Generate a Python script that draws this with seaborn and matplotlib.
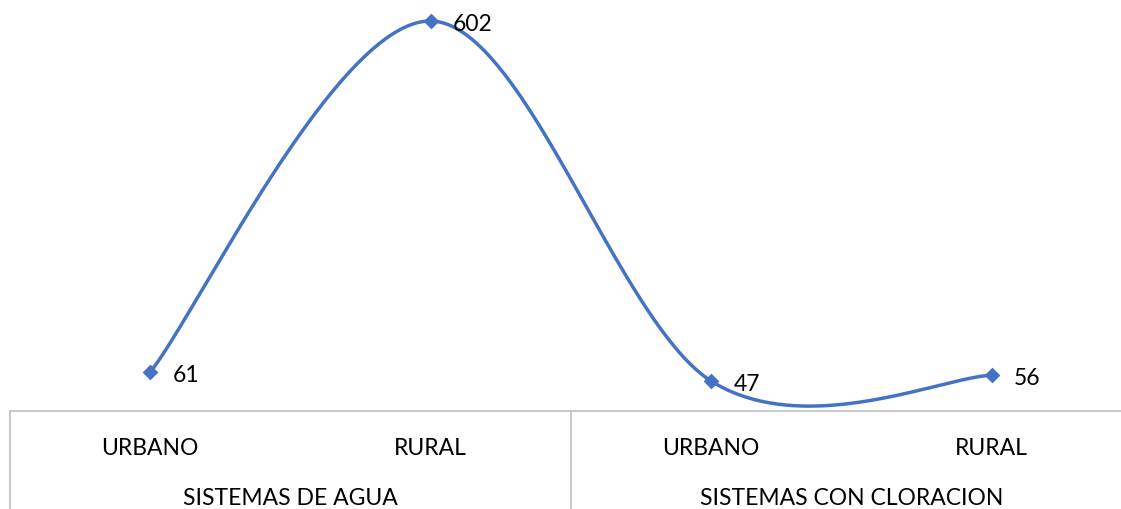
import numpy as np
import pandas as pd
import seaborn as sns
import matplotlib
matplotlib.use("Agg")
import matplotlib.pyplot as plt

# ---- data ----
groups = ["SISTEMAS DE AGUA", "SISTEMAS CON CLORACION"]
subcats = ["URBANO", "RURAL", "URBANO", "RURAL"]
values = [61, 602, 47, 56]

sns.set_theme(style="white")
plt.rcParams['font.family'] = ['Lato', 'DejaVu Sans']

W, H = 1121, 510
fig = plt.figure(figsize=(W / 100, H / 100), dpi=100)
left_px, base_px = 10, 412.6
step_px = 280.5
ax = fig.add_axes([left_px / W, 1 - base_px / H, 1 - left_px / W, base_px / H])

xs = np.arange(len(values), dtype=float)
ys = np.array(values, dtype=float)

# Excel-style smoothed line (Catmull-Rom -> Bezier segments)
P = np.column_stack([xs, ys])
ext = np.vstack([P[0], P, P[-1]])
curve = []
t = np.linspace(0, 1, 80)
for i in range(len(P) - 1):
    p0, p1, p2, p3 = ext[i], ext[i + 1], ext[i + 2], ext[i + 3]
    b1 = p1 + (p2 - p0) / 6
    b2 = p2 - (p3 - p1) / 6
    seg = ((1 - t) ** 3)[:, None] * p1 + (3 * (1 - t) ** 2 * t)[:, None] * b1 \
        + (3 * (1 - t) * t ** 2)[:, None] * b2 + (t ** 3)[:, None] * p2
    curve.append(seg if i == 0 else seg[1:])
curve = np.vstack(curve)
smooth = pd.DataFrame({"x": curve[:, 0], "y": curve[:, 1]})
pts = pd.DataFrame({"x": xs, "y": ys})

color = "#4472C4"
sns.lineplot(data=smooth, x="x", y="y", sort=False, ax=ax, color=color, lw=2.5)
sns.scatterplot(data=pts, x="x", y="y", ax=ax, color=color, marker="D", s=64,
                edgecolor=color, linewidth=0, zorder=5)

for xv, yv in zip(xs, ys):
    ax.annotate(str(int(yv)), (xv, yv), xytext=(16, -1.5), textcoords="offset points",
                ha="left", va="center", fontsize=16.5, color="black")

xmax = (W - left_px) / step_px - 0.5
ax.set_xlim(-0.5, xmax)
ax.set_ylim(0, base_px / ((373 - 22) / (602 - 61)))
ax.set_axis_off()

# category axis boxes
gray = "#BFBFBF"
fig.add_artist(plt.Line2D([left_px / W, 1], [1 - 412 / H] * 2, color=gray, lw=1.2))
for xp in [left_px, left_px + 2 * step_px]:
    fig.add_artist(plt.Line2D([xp / W] * 2, [0, 1 - 412 / H], color=gray, lw=1.2))

for i, s in enumerate(subcats):
    xp = left_px + (i + 0.5) * step_px
    fig.text(xp / W, 1 - 449 / H, s, ha="center", va="center", fontsize=16.5, color="black")
for j, g in enumerate(groups):
    xp = left_px + (2 * j + 1) * step_px
    fig.text(xp / W, 1 - 499 / H, g, ha="center", va="center", fontsize=16.5, color="black")

fig.savefig("out.png", dpi=100)
